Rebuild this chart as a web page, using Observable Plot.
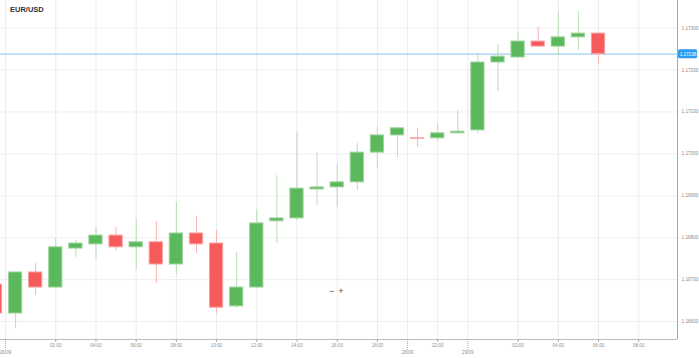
<!DOCTYPE html>
<html><head><meta charset="utf-8">
<script src="https://cdn.jsdelivr.net/npm/d3@7"></script>
<script src="https://cdn.jsdelivr.net/npm/@observablehq/plot@0.6"></script>
<style>
body{margin:0;background:#fff;}
#wrap{position:relative;width:699px;height:358px;overflow:hidden;font-family:"Liberation Sans",Arial,sans-serif;}
#title{position:absolute;left:10px;top:5px;font-size:7.5px;font-weight:bold;color:#333;}
#zoom{position:absolute;left:329px;top:286px;font-size:9px;color:#444;letter-spacing:4px;}
</style></head>
<body><div id="wrap"><div id="title">EUR/USD</div><div id="zoom">−+</div></div>
<script>
// candle index (hourly slot), open, high, low, close
const idx   = [-1,0,1,2,3,4,5,6,7,8,9,10,11,12,13,14,15,16,17,18,19,20,21,22,23,24,25,26,27,28,29];
const opens = [1.16688,1.16619,1.16717,1.16681,1.16774,1.16784,1.16805,1.16777,1.16789,1.16736,1.16810,1.16786,1.16636,1.16681,1.16839,1.16846,1.16915,1.16920,1.16932,1.17003,1.17044,1.17037,1.17037,1.17049,1.17056,1.17218,1.17230,1.17268,1.17256,1.17278,1.17287];
const highs = [1.16688,1.16717,1.16738,1.16798,1.16793,1.16824,1.16824,1.16846,1.16839,1.16884,1.16851,1.16817,1.16765,1.16867,1.16948,1.17051,1.17003,1.16975,1.17025,1.17063,1.17063,1.17061,1.17070,1.17104,1.17240,1.17261,1.17290,1.17302,1.17337,1.17340,1.17290];
const lows  = [1.16619,1.16583,1.16662,1.16679,1.16753,1.16750,1.16769,1.16722,1.16691,1.16712,1.16762,1.16619,1.16631,1.16679,1.16786,1.16841,1.16877,1.16872,1.16913,1.16965,1.16991,1.17015,1.17032,1.17049,1.17049,1.17149,1.17230,1.17256,1.17235,1.17247,1.17215];
const closes= [1.16619,1.16717,1.16681,1.16777,1.16786,1.16805,1.16777,1.16789,1.16736,1.16810,1.16784,1.16633,1.16681,1.16834,1.16846,1.16917,1.16920,1.16932,1.17003,1.17044,1.17061,1.17036,1.17049,1.17053,1.17218,1.17232,1.17268,1.17256,1.17278,1.17287,1.17238];

const yTicks = [1.166,1.167,1.168,1.169,1.170,1.171,1.172,1.173];
const hourTickIdx = [2,4,6,8,10,12,14,16,18,21,25,27,29,31];
const hourTickLabels = ["02:00","04:00","06:00","08:00","10:00","12:00","14:00","16:00","18:00","22:00","02:00","04:00","06:00","08:00"];
const dateTickIdx = [-0.5,19.5,22.5];
const dateTickLabels = ["26/09","28/09","29/09"];
const lastPrice = closes[closes.length-1];

const xDom = [-0.75, 32.93];
const yDom = [1.16557, 1.17366];

const candles = idx.map((i,k)=>({i, open:opens[k], high:highs[k], low:lows[k], close:closes[k]}));
const hours = hourTickIdx.map((i,k)=>({i, label:hourTickLabels[k]}));
const dates = dateTickIdx.map((i,k)=>({i, label:dateTickLabels[k]}));
const allTicks = [...hours, ...dates];

const up = d => d.close > d.open;
const G = "#5cb85c", R = "#f75a5a";

const chart = Plot.plot({
  width: 699, height: 358, margin: 0,
  x: {type:"linear", domain: xDom, range: [0, 677], axis: null},
  y: {type:"linear", domain: yDom, range: [339, 0], axis: null},
  style: {background: "white", fontFamily: "'Liberation Sans', Arial, sans-serif", overflow: "visible"},
  marks: [
    Plot.ruleY(yTicks, {y: d=>d, x1: xDom[0], x2: xDom[1], stroke: "#efefef"}),
    Plot.ruleX(allTicks, {x: "i", y1: yDom[0], y2: yDom[1], stroke: "#ececec"}),
    Plot.ruleY([lastPrice], {y: d=>d, x1: xDom[0], x2: xDom[1], stroke: "#9fd0f5", strokeWidth: 1.2}),
    Plot.ruleX(candles, {x: "i", y1: "low", y2: "high", stroke: d => up(d) ? "#b9dfb6" : "#f8b4b4", strokeWidth: 1}),
    Plot.rect(candles, {x1: d=>d.i-0.33, x2: d=>d.i+0.33, y1: "open", y2: "close",
      fill: d => up(d) ? G : R, stroke: d => up(d) ? "#9fd49c" : "#f9a0a0", strokeWidth: 1}),
    Plot.ruleX([xDom[1]], {x: d=>d, y1: yDom[0], y2: yDom[1], stroke: "#a8a8a8"}),
    Plot.ruleY([yDom[0]], {y: d=>d, x1: xDom[0], x2: xDom[1], stroke: "#bdbdbd"}),
    Plot.ruleX(hours, {x: "i", y1: yDom[0], y2: yDom[0], insetBottom: -3, stroke: "#aaa"}),
    Plot.ruleX(dates, {x: "i", y1: yDom[0], y2: yDom[0], insetBottom: -11, stroke: "#aaa", strokeDasharray: "1,1"}),
    Plot.text(yTicks, {x: xDom[1], y: d=>d, text: d=>d.toFixed(5), dx: 4, textAnchor: "start", fontSize: 4.7, fill: "#8a8a8a"}),
    Plot.text(hours, {x: "i", y: yDom[0], text: "label", dy: 6.5, fontSize: 4.6, fill: "#8f8f8f"}),
    Plot.text(dates, {x: "i", y: yDom[0], text: "label", dy: 13.5, fontSize: 4.6, fill: "#8f8f8f"}),
    Plot.rect([lastPrice], {x1: xDom[1]+0.05, x2: xDom[1]+1.0, y1: d=>d, y2: d=>d, insetTop: -4.5, insetBottom: -4.5, fill: "#2d9bf0", rx: 1.5}),
    Plot.text([lastPrice], {x: xDom[1]+0.52, y: d=>d, text: d=>d.toFixed(5), fontSize: 4.6, fill: "white"})
  ]
});
chart.style.position = "absolute";
chart.style.left = "0"; chart.style.top = "0";
const wrap = document.getElementById("wrap");
wrap.insertBefore(chart, wrap.firstChild);
</script>
</body></html>
